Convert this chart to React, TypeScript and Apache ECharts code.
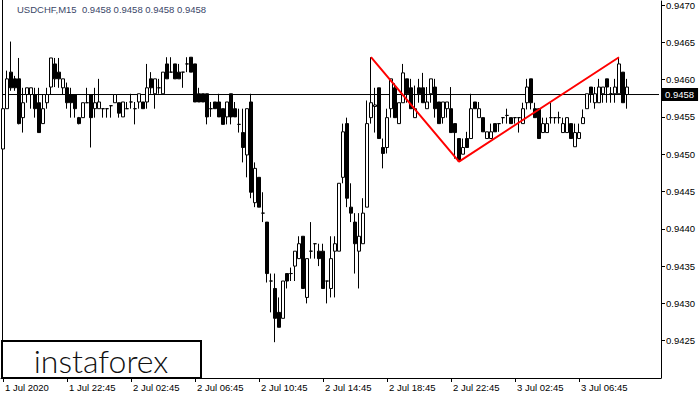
import React, { useEffect, useRef } from "react";
import * as echarts from "echarts";

// Prices are stored as pips above BASE (0.9400)
const BASE = 0.94;
const PIP = 0.0001;

const openPips = [
  50.7, 56.1, 61.0, 60.1, 60.1, 54.9, 58.0, 58.0, 58.0, 56.9,
  54.1, 56.9, 59.0, 62.1, 61.0, 58.9, 58.9, 58.0, 58.0, 54.9,
  54.9, 56.9, 58.0, 56.1, 56.1, 56.1, 56.1, 56.5, 56.9, 56.9,
  55.0, 56.1, 57.0, 56.1, 57.0, 57.0, 57.0, 60.1, 58.1, 58.9,
  58.1, 62.1, 61.0, 62.1, 61.0, 61.0, 62.1, 63.0, 62.1, 58.1,
  58.1, 58.1, 56.1, 57.0, 57.0, 56.1, 55.0, 58.1, 56.1, 54.0,
  52.9, 49.9, 57.0, 43.5, 46.9, 42.1, 40.9, 33.0, 32.0, 28.8,
  28.0, 34.0, 34.0, 35.0, 36.0, 39.0, 30.8, 37.0, 38.0, 37.0,
  37.0, 33.0, 32.0, 37.0, 37.0, 46.9, 54.1, 42.9, 40.9, 37.0,
  38.0, 42.9, 54.9, 56.4, 58.9, 50.9, 50.9, 56.1, 58.9, 54.1,
  56.9, 60.1, 58.9, 54.9, 58.9, 58.9, 56.1, 58.1, 59.0, 57.0,
  54.9, 56.1, 56.1, 54.1, 52.1, 50.0, 52.1, 52.1, 57.0, 54.9,
  54.9, 52.1, 52.1, 54.1, 54.1, 54.9, 55.2, 54.9, 54.9, 54.9,
  54.1, 56.9, 60.1, 56.1, 56.1, 52.9, 52.9, 54.9, 54.9, 54.9,
  52.9, 52.9, 54.1, 51.0, 52.1, 54.1, 56.1, 59.0, 56.9, 56.9,
  58.1, 60.1, 58.1, 58.1, 58.1, 61.0, 58.0,
];

const closePips = [
  56.1, 60.1, 58.9, 58.9, 54.1, 56.9, 58.9, 58.9, 56.1, 52.9,
  56.1, 58.0, 62.9, 60.1, 60.1, 60.1, 56.9, 56.9, 56.1, 54.1,
  56.9, 56.9, 54.9, 56.9, 57.0, 56.1, 56.1, 56.5, 58.0, 55.5,
  57.0, 56.1, 57.0, 56.1, 58.1, 56.1, 58.9, 58.9, 60.1, 58.9,
  61.0, 60.1, 61.0, 60.1, 60.1, 61.0, 62.1, 61.0, 57.0, 57.0,
  57.0, 55.0, 56.1, 56.1, 55.0, 54.0, 57.0, 55.0, 55.0, 54.0,
  50.9, 56.1, 44.9, 48.1, 42.9, 42.1, 34.0, 33.0, 28.0, 26.8,
  33.0, 33.0, 34.0, 37.0, 38.0, 32.0, 36.0, 37.0, 38.0, 36.0,
  32.0, 33.0, 36.0, 38.0, 46.1, 53.0, 44.1, 42.1, 38.0, 39.0,
  42.1, 54.1, 56.9, 56.6, 52.1, 50.1, 54.9, 60.1, 54.9, 56.9,
  60.9, 58.1, 56.1, 56.1, 58.1, 56.9, 57.0, 60.1, 56.1, 54.1,
  57.0, 57.0, 52.9, 52.9, 49.1, 50.9, 50.9, 56.1, 56.1, 56.1,
  53.0, 53.0, 53.0, 53.0, 54.1, 54.9, 55.2, 54.1, 54.9, 54.9,
  56.1, 59.0, 56.9, 54.9, 52.1, 54.1, 54.1, 54.9, 54.9, 54.9,
  54.1, 54.9, 52.1, 52.9, 52.9, 54.9, 58.1, 58.1, 58.1, 59.0,
  59.0, 59.0, 58.1, 59.0, 62.1, 56.9, 59.0,
];

const lowPips = [
  48.9, 56.1, 58.5, 58.5, 54.0, 52.9, 56.9, 56.1, 54.9, 52.9,
  54.1, 56.1, 58.0, 59.0, 58.9, 58.0, 56.1, 54.9, 54.9, 54.0,
  54.9, 56.9, 50.9, 54.9, 56.1, 54.9, 54.9, 54.9, 56.9, 54.9,
  55.0, 56.1, 56.1, 54.0, 56.1, 56.1, 56.1, 58.1, 56.1, 58.1,
  58.1, 60.1, 61.0, 60.1, 60.1, 58.9, 61.0, 61.0, 57.0, 57.0,
  57.0, 54.0, 55.0, 56.1, 55.0, 54.0, 54.0, 54.0, 55.0, 52.9,
  48.9, 46.9, 44.1, 42.9, 42.9, 40.9, 32.8, 28.8, 24.8, 26.8,
  28.0, 32.0, 33.0, 33.0, 36.0, 32.0, 30.0, 36.0, 36.0, 35.0,
  32.0, 30.0, 30.8, 30.8, 37.0, 46.1, 42.9, 40.9, 34.0, 32.0,
  38.0, 42.9, 54.1, 52.9, 52.1, 48.1, 50.1, 54.9, 54.9, 54.1,
  56.9, 56.9, 56.1, 54.9, 56.9, 56.9, 56.1, 56.9, 54.9, 54.1,
  54.1, 54.9, 52.9, 49.4, 49.1, 50.0, 50.9, 52.1, 56.1, 54.9,
  53.0, 52.1, 52.1, 53.0, 53.0, 54.1, 54.1, 54.1, 54.1, 52.9,
  54.1, 56.0, 56.0, 54.9, 52.1, 52.9, 52.9, 54.1, 54.1, 54.1,
  52.9, 52.9, 52.1, 51.0, 52.1, 54.1, 56.1, 56.9, 56.1, 56.9,
  56.9, 56.9, 56.9, 56.9, 58.1, 56.9, 56.1,
];

const highPips = [
  56.1, 61.2, 65.1, 60.5, 62.9, 58.9, 58.9, 58.9, 58.9, 58.9,
  58.0, 58.9, 62.9, 62.9, 62.9, 60.1, 59.6, 58.9, 58.0, 55.0,
  56.9, 58.9, 58.0, 58.9, 60.1, 56.1, 56.1, 56.5, 58.0, 56.9,
  57.0, 57.0, 58.1, 57.0, 58.1, 57.0, 62.1, 61.0, 60.1, 60.1,
  61.0, 63.0, 63.0, 62.1, 62.1, 61.0, 63.0, 63.0, 62.1, 58.9,
  58.1, 58.1, 57.0, 57.0, 58.1, 56.1, 57.0, 58.1, 57.0, 56.1,
  56.1, 56.1, 58.1, 48.9, 46.9, 44.9, 40.9, 34.0, 34.0, 30.8,
  33.0, 34.0, 34.8, 37.0, 39.0, 39.0, 36.0, 40.9, 38.0, 38.0,
  38.0, 33.0, 39.0, 39.0, 46.1, 54.1, 54.9, 46.1, 42.1, 42.1,
  44.1, 57.2, 63.0, 58.9, 58.9, 52.1, 56.1, 60.1, 59.5, 56.9,
  62.1, 60.1, 60.1, 59.2, 60.1, 60.9, 59.0, 60.1, 60.1, 57.0,
  57.0, 57.0, 59.0, 54.1, 52.1, 52.1, 53.0, 58.1, 57.0, 57.0,
  54.9, 53.0, 54.1, 54.1, 54.1, 54.9, 56.1, 54.9, 54.9, 54.9,
  56.9, 60.1, 60.1, 56.9, 56.1, 54.9, 54.9, 56.9, 54.9, 55.7,
  54.9, 54.9, 54.1, 54.1, 54.1, 56.0, 58.1, 59.0, 59.0, 60.1,
  59.0, 60.1, 59.0, 60.1, 62.9, 61.0, 60.1,
];

// Bottom time-axis labels, one every 16 bars (4 hours of M15)
const tickLabels = [
  "1 Jul 2020", "1 Jul 22:45", "2 Jul 02:45", "2 Jul 06:45", "2 Jul 10:45",
  "2 Jul 14:45", "2 Jul 18:45", "2 Jul 22:45", "3 Jul 02:45", "3 Jul 06:45",
];
const BARS_PER_LABEL = 16;
const EMPTY_BARS = 8; // chart shift on the right

// Double-top pattern line (bar index, price)
const patternIndex = [92, 114, 154];
const patternPrice = [0.9463, 0.9449, 0.9463];

const bidPrice = 0.9458;
const titleText = "USDCHF,M15  0.9458 0.9458 0.9458 0.9458";

const Y_MIN = 0.942;
const Y_MAX = 0.947053;
const Y_STEP = 0.0005;

const FONT = "Liberation Sans, Arial, sans-serif";

export default function App() {
  const ref = useRef<HTMLDivElement>(null);

  useEffect(() => {
    if (!ref.current) return;
    const chart = echarts.init(ref.current, undefined, { renderer: "svg" });

    const nBars = openPips.length;
    const categories = Array.from({ length: nBars + EMPTY_BARS }, (_, i) => String(i));
    const toPrice = (p: number) => +(BASE + p * PIP).toFixed(5);
    const candles = openPips.map((o, i) => [
      toPrice(o),
      toPrice(closePips[i]),
      toPrice(lowPips[i]),
      toPrice(highPips[i]),
    ]);
    const patternData = categories.map((_, i) => {
      const k = patternIndex.indexOf(i);
      return k >= 0 ? patternPrice[k] : null;
    });
    const bidData = categories.map(() => bidPrice);
    const showTick = (index: number) =>
      index % BARS_PER_LABEL === 0 && index / BARS_PER_LABEL < tickLabels.length;

    chart.setOption({
      animation: false,
      backgroundColor: "#ffffff",
      title: {
        text: titleText,
        left: 17,
        top: 4,
        padding: 0,
        textStyle: { fontSize: 9.5, fontWeight: "normal", color: "#3a4668", fontFamily: FONT },
      },
      grid: { left: 1, right: 39, top: 0, bottom: 22, containLabel: false },
      xAxis: {
        type: "category",
        data: categories,
        boundaryGap: true,
        axisLine: { show: true, lineStyle: { color: "#000", width: 1 } },
        axisTick: {
          show: true,
          interval: (index: number) => showTick(index),
          alignWithLabel: true,
          length: 4,
          lineStyle: { color: "#000" },
        },
        axisLabel: {
          interval: (index: number) => showTick(index),
          formatter: (_v: string, index: number) =>
            showTick(index) ? tickLabels[index / BARS_PER_LABEL] : "",
          align: "left",
          color: "#000",
          fontSize: 9.5,
          fontFamily: FONT,
          margin: 4,
          padding: [0, 0, 0, 2],
        },
        splitLine: { show: false },
      },
      yAxis: {
        type: "value",
        position: "right",
        min: Y_MIN,
        max: Y_MAX,
        interval: Y_STEP,
        scale: true,
        splitLine: { show: false },
        axisLine: { show: true, lineStyle: { color: "#000", width: 1 } },
        axisTick: { show: true, length: 4, lineStyle: { color: "#000" } },
        axisLabel: {
          color: "#000",
          fontSize: 9.5,
          fontFamily: FONT,
          margin: 5,
          showMinLabel: false,
          showMaxLabel: false,
          formatter: (v: number) => {
            const k = v / Y_STEP;
            if (Math.abs(k - Math.round(k)) > 1e-6) return "";
            if (v <= Y_MIN + 1e-7) return "";
            return v.toFixed(4);
          },
        },
      },
      series: [
        {
          type: "line",
          data: bidData,
          symbol: "none",
          silent: true,
          lineStyle: { color: "#000", width: 1 },
          z: 1,
          endLabel: {
            show: true,
            formatter: () => bidPrice.toFixed(4),
            color: "#fff",
            backgroundColor: "#000",
            padding: [2, 4, 1, 3],
            fontSize: 9.5,
            fontFamily: FONT,
            distance: 3,
          },
        },
        {
          type: "candlestick",
          data: candles,
          barWidth: 3,
          itemStyle: {
            color: "#ffffff",
            color0: "#000000",
            borderColor: "#000000",
            borderColor0: "#000000",
            borderWidth: 1,
          },
          z: 2,
        },
        {
          type: "line",
          data: patternData,
          connectNulls: true,
          symbol: "none",
          silent: true,
          lineStyle: { color: "#ff0000", width: 2 },
          z: 5,
        },
      ],
      graphic: [
        {
          type: "line",
          shape: { x1: 2.5, y1: 0, x2: 2.5, y2: 378 },
          style: { stroke: "#000", lineWidth: 1 },
          silent: true,
        },
        {
          type: "rect",
          shape: { x: 2, y: 341, width: 199, height: 37 },
          style: { fill: "#fff", stroke: "#000", lineWidth: 2 },
          z: 10,
          silent: true,
        },
        {
          type: "text",
          x: 101,
          y: 360,
          z: 11,
          silent: true,
          style: {
            text: "instaforex",
            fontSize: 32,
            fontWeight: 300,
            fontFamily: "Lato, DejaVu Sans, sans-serif",
            fill: "#111",
            align: "center",
            verticalAlign: "middle",
          },
        },
      ],
    });

    return () => chart.dispose();
  }, []);

  return (
    <div
      ref={ref}
      style={{ position: "absolute", left: 0, top: 0, width: 700, height: 400 }}
    />
  );
}
